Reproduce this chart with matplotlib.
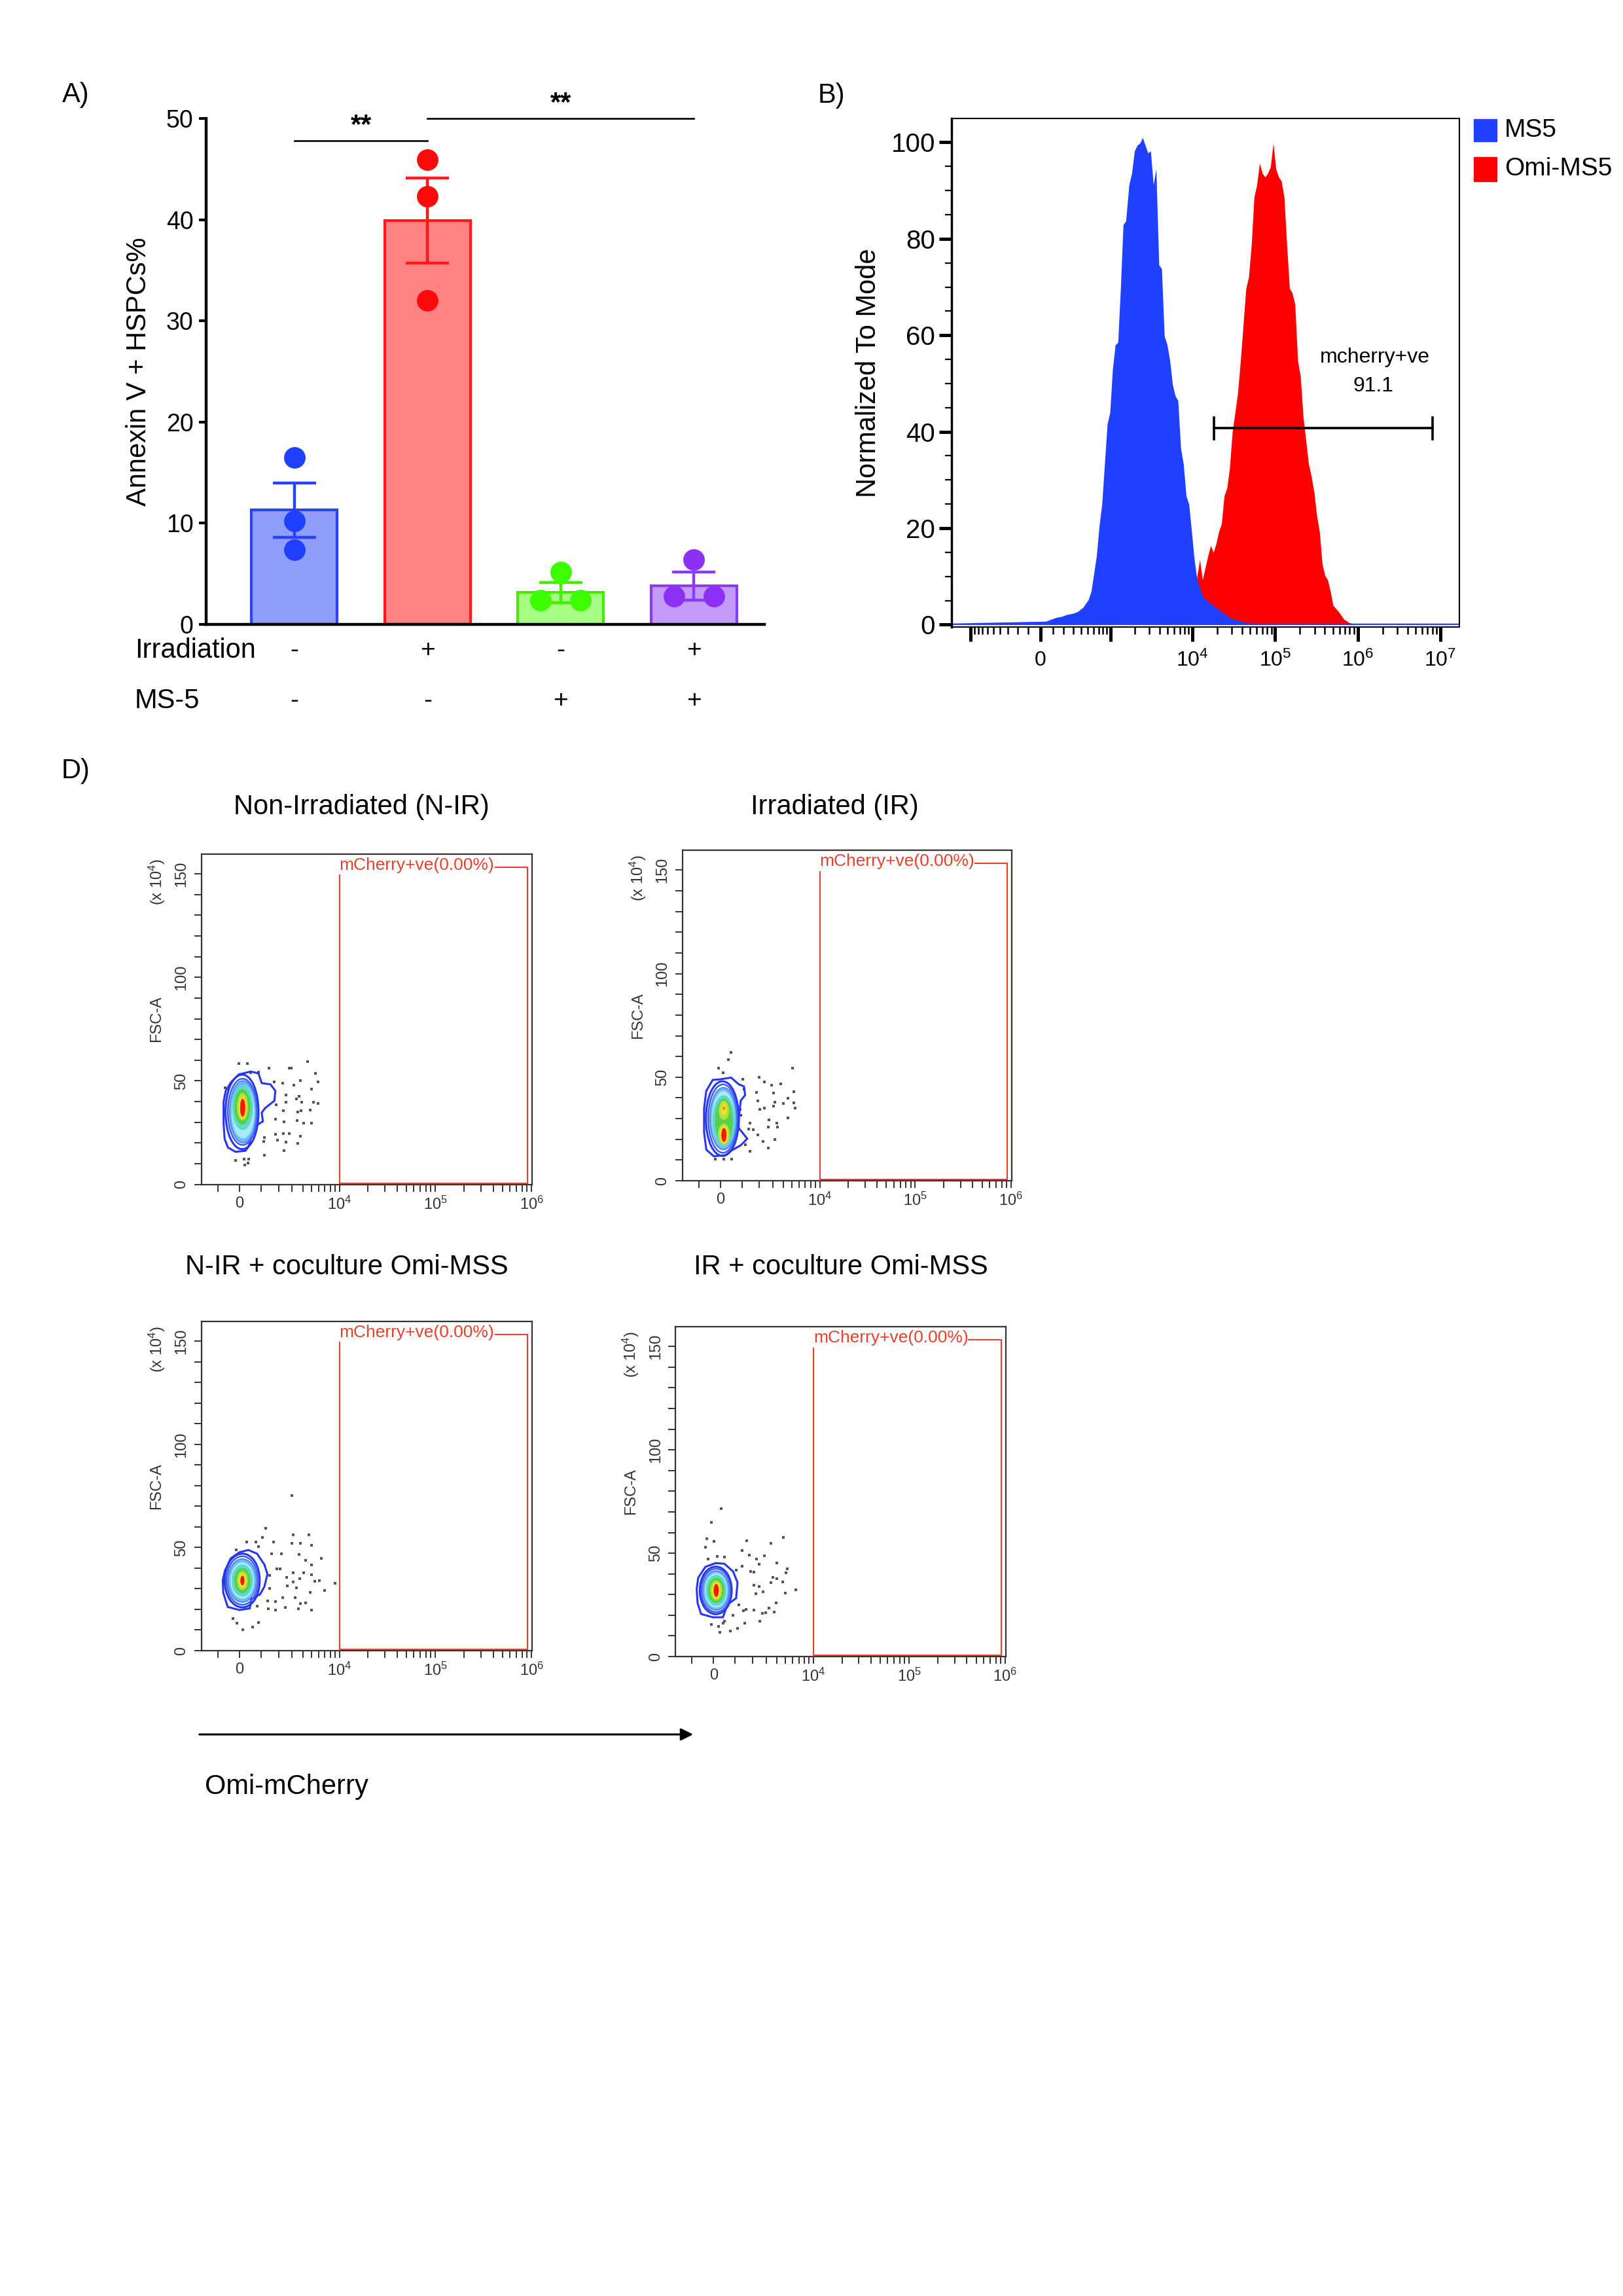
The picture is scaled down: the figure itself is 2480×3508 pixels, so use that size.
import numpy as np
import matplotlib
matplotlib.use("Agg")
import matplotlib.pyplot as plt
from matplotlib.patches import Ellipse, Rectangle, FancyArrowPatch
from matplotlib.ticker import FixedLocator, MultipleLocator, NullFormatter

plt.rcParams['font.family'] = ['Liberation Sans', 'DejaVu Sans']
plt.rcParams['mathtext.fontset'] = 'custom'
plt.rcParams['mathtext.rm'] = 'Liberation Sans'
plt.rcParams['mathtext.it'] = 'Liberation Sans:italic'
plt.rcParams['mathtext.bf'] = 'Liberation Sans:bold'
plt.rcParams['mathtext.default'] = 'regular'

# ---------------- Panel A data ----------------
A_groups = ["IR-/MS5-", "IR+/MS5-", "IR-/MS5+", "IR+/MS5+"]
A_means = [11.3, 39.9, 3.15, 3.8]
A_sem = [2.7, 4.2, 1.0, 1.4]
A_points = [[16.5, 10.25, 7.35], [45.9, 42.3, 32.0], [5.15, 2.4, 2.4], [6.4, 2.8, 2.8]]
A_irradiation = ["-", "+", "-", "+"]
A_ms5 = ["-", "-", "+", "+"]
A_sig_pairs = [(0, 1, 47.8), (1, 3, 50.0)]

# ---------------- Panel B data (histograms) ----------------
B_blue_x = [-1720, 43, 86, 132, 180, 233, 291, 356, 429, 512, 558, 607, 659, 715, 775, 839,
            908, 981, 1060, 1144, 1235, 1331, 1435, 1546, 1694, 1830, 1974, 2131, 2299, 2479,
            2672, 2881, 3105, 3354, 3618, 3917, 4228, 4561, 4922, 5312, 5732, 6182, 6670, 7196,
            7764, 8378, 9038, 9750, 10520, 11350, 13210, 15380, 17900, 20780, 24190, 28140,
            38130, 51660, 1.7e7]
B_blue_y = [0.3, 0.7, 1.1, 1.5, 1.7, 2.1, 2.3, 2.7, 3.6, 5.2, 6.9, 10.6, 14.3, 20.5, 25.0, 33.3,
            41.6, 44.0, 53.0, 58.0, 58.5, 69.7, 82.9, 83.7, 91.2, 93.6, 98.2, 99.4, 99.8, 101.0,
            99.4, 97.8, 98.2, 91.2, 94.5, 74.6, 73.8, 59.8, 58.1, 54.8, 49.8, 47.4, 46.5, 36.6,
            33.3, 26.7, 25.0, 19.3, 13.5, 9.3, 6.0, 4.8, 4.0, 3.1, 2.3, 1.5,
            0.7, 0.3, 0.3]
B_red_x = [9750, 11350, 12240, 13210, 14250, 15380, 16590, 17900, 19310, 20780, 22430, 24190,
           26100, 28140, 30360, 32760, 35340, 38130, 41130, 44380, 47880, 51660, 55720, 60120,
           64850, 69970, 75490, 81420, 87840, 94780, 102260, 110300, 119000, 128380, 138490,
           149410, 161200, 173910, 187600, 202410, 218370, 235590, 254160, 274200, 295820,
           319140, 344320, 371450, 400740, 432350, 466420, 503220, 585730, 681740, 793520, 923440]
B_red_y = [0.5, 10.0, 13.5, 9.3, 11.8, 14.3, 16.4, 15.0, 16.8, 19.3, 20.9, 26.7,
           28.3, 32.5, 40.0, 44.0, 48.2, 54.8, 62.2, 69.7, 72.1, 78.8, 88.7, 91.2,
           95.7, 93.6, 92.8, 93.6, 94.9, 99.8, 94.5, 92.8, 92.0, 88.7, 78.8,
           69.7, 68.8, 66.4, 54.8, 51.5, 43.2, 38.3, 33.3, 30.8, 27.5,
           22.6, 19.3, 12.6, 10.2, 9.3, 6.9, 4.0, 2.7, 1.1, 0.4, 0.1]
B_series = ["MS5", "Omi-MS5"]
B_gate_x = [18150, 8.0e6]
B_gate_y = 40.7
B_gate_label = "mcherry+ve"
B_gate_value = "91.1"

# ---------------- Panel D data (flow plots) ----------------
D_titles = ["Non-Irradiated (N-IR)", "Irradiated (IR)",
            "N-IR + coculture Omi-MSS", "IR + coculture Omi-MSS"]
D_gate_x = [1.0e4, 9.1e5]
D_gate_top = 153.3
D_gate_label = "mCherry+ve(0.00%)"

D1_outer_x = [507, 869, 1031, 1500, 1785, 1733, 1201, 1031, 1089, 659, 489, 409, 262, -174, -519,
              -672, -721, -721, -619, -370, -29]
D1_outer_y = [54.5, 53.6, 48.9, 48.3, 45.2, 40.4, 36.8, 34.6, 30.4, 27.8, 21.4, 18.3, 16.2, 15.7,
              17.8, 22.0, 29.4, 39.9, 45.2, 49.4, 53.1]
D1_levels = [(1, 120, 35, 1500, 36), (2, 140, 35, 1320, 32), (3, 160, 35, 1200, 30),
             (4, 160, 35, 1060, 26), (5, 140, 37, 880, 21), (6, 130, 37.5, 700, 17),
             (7, 135, 37.5, 470, 13), (8, 140, 37, 320, 10.5), (9, 140, 37, 210, 8.5)]
D1_dots_x = [-30, 350, 1400, 2750, 2940, 4540, 5500, 5900, 2280, 3160, 3770, 1700, 2530, 3630, 3360,
             3910, 5230, 5900, 2490, 1840, 5050, 2320, 3490, 3830, 4880, 1790, 2360, 3440, 4060,
             5050, 1170, 1120, 1790, 2320, 2750, 1930, 2490, 3770, 3490, 2360, 1170, -170, 195,
             420, 235, 393, -636, 875, 500]
D1_dots_y = [58.5, 58.5, 56.0, 56.0, 56.0, 59.2, 53.5, 49.4, 48.7, 48.0, 50.1, 49.4, 43.3, 42.6, 41.2,
             39.7, 39.7, 39.0, 39.7, 38.3, 46.1, 35.5, 34.8, 35.5, 35.8, 31.5, 30.1, 30.9, 29.5,
             29.5, 22.7, 20.6, 24.1, 24.5, 24.5, 21.3, 20.3, 23.1, 19.9, 16.3, 14.2, 11.6, 12.1,
             12.1, 9.2, 10.2, 46.8, 54.2, 53.9]

D2_outer_x = [-46, 485, 843, 1113, 1170, 948, 843, 843, 1284, 948, 485, 242, -288, -633, -737, -737,
              -633, -335]
D2_outer_y = [48.9, 49.8, 46.6, 45.5, 41.3, 38.7, 29.7, 25.5, 20.3, 17.1, 14.5, 12.4, 11.8, 15.0,
              23.4, 35.0, 43.4, 48.7]
D2_levels = [(1, 100, 30, 1500, 36), (2, 120, 30, 1320, 33), (3, 140, 30, 1200, 30),
             (4, 140, 30, 1060, 27), (5, 150, 29, 940, 24), (6, 160, 29, 760, 21),
             (7, 164, 34, 440, 9), (7, 164, 22.5, 500, 10), (8, 164, 34.5, 230, 5),
             (8, 164, 22.3, 340, 8.5), (9, 164, 22.1, 210, 6.5), (10, 164, 35, 90, 1.5)]
D2_dots_x = [495, 363, -64, 129, 1055, 2006, 2357, 2928, 3721, 5051, 1129, 1841, 3051, 5222, 1917,
             3178, 4029, 4508, 5222, 910, 2025, 2357, 3051, 5400, 939, 1445, 1364, 1613, 2688,
             3359, 4508, 2627, 3441, 1917, 3178, 2263, 2627, 1445, 1176, -219, 168, 522]
D2_dots_y = [61.8, 58.6, 54.3, 52.2, 49.1, 50.0, 47.6, 46.2, 46.8, 54.3, 44.4, 42.7, 42.3, 43.0, 38.7,
             38.0, 37.3, 39.7, 37.7, 34.5, 34.5, 35.2, 35.9, 35.2, 31.6, 27.8, 25.0, 24.8, 29.5,
             27.8, 30.2, 25.9, 25.9, 22.1, 19.9, 18.9, 15.7, 14.3, 17.4, 10.4, 10.4, 10.4]

D3_outer_x = [-663, -393, 0, 393, 803, 1170, 1330, 1170, 947, 527, 460, 0, -527, -735, -760]
D3_outer_y = [38.6, 44.7, 47.7, 48.8, 47.0, 41.7, 37.1, 31.1, 27.3, 25.0, 20.5, 19.7, 21.2, 28.0, 34.1]
D3_levels = [(1, 130, 34, 1600, 26), (2, 130, 34, 1420, 23.5), (3, 130, 34, 1280, 21),
             (4, 130, 34, 1100, 18), (5, 130, 34, 900, 15), (6, 130, 34, 700, 12),
             (7, 130, 34, 460, 9), (8, 130, 34, 300, 6.5), (9, 130, 34, 160, 4.5)]
D3_dots_x = [2986, 1220, 1066, 327, 733, 1698, 875, 3110, 4700, 2986, 3770, 5050, -156, 1576, 2180,
             3630, 6370, 4280, 5050, 1880, 2090, 1460, 2575, 4063, 3110, 5050, 5420, 6100, 9000,
             3060, 3690, 2600, 3360, 7000, 1460, 4880, 3230, 2280, 4310, 3770, 803, 1330, 1790,
             1380, 1810, 2470, 3550, 5050, -287, -104, 875, 594, 157]
D3_dots_y = [75.3, 59.4, 54.8, 52.7, 52.7, 52.7, 50.5, 56.1, 56.1, 52.0, 52.0, 51.2, 48.9, 47.0, 47.0,
             46.5, 44.7, 43.9, 41.7, 39.7, 39.7, 36.4, 35.6, 37.9, 37.9, 36.8, 33.6, 34.1, 32.6,
             33.3, 34.8, 31.5, 30.6, 29.2, 30.2, 28.3, 25.8, 25.6, 23.2, 23.0, 21.7, 24.2, 23.8,
             20.2, 19.7, 20.8, 20.2, 19.7, 15.6, 13.3, 13.6, 11.4, 10.2]

D4_outer_x = [-701, -364, 90, 483, 898, 1119, 1044, 618, 417, -39, -564, -729, -770]
D4_outer_y = [38.1, 43.4, 45.2, 44.9, 41.1, 35.8, 28.2, 25.1, 19.0, 19.0, 20.6, 25.9, 32.7]
D4_levels = [(1, 100, 32, 1450, 23), (2, 110, 32, 1320, 21), (3, 110, 32, 1180, 19),
             (4, 110, 32, 1040, 17), (5, 115, 32, 870, 14.5), (6, 115, 32, 700, 12),
             (7, 116, 32, 500, 9.5), (8, 116, 32, 340, 7.5), (9, 116, 32, 210, 6)]
D4_dots_x = [351, -103, -298, 26, -364, -233, 155, 483, 1634, 1353, 1774, 2247, 2846, 3435, 4777,
             2456, 4014, 1044, 1353, 1870, 2055, 5210, 5040, 3578, 4014, 4683, 3435, 2055, 2456,
             2718, 2192, 4975, 6518, 1195, 1434, 1600, 2055, 2676, 2968, 3212, 3724, 3947, 2504,
             1515, 898, 483, 417, 221, -103, 756, 1119, 286]
D4_dots_y = [71.6, 65.0, 57.1, 55.6, 52.8, 47.2, 48.4, 48.0, 56.0, 51.3, 49.2, 47.2, 48.7, 54.8, 57.6,
             44.5, 45.2, 41.9, 43.7, 41.1, 40.8, 42.3, 40.4, 38.4, 37.6, 36.1, 35.8, 34.6, 34.0,
             31.2, 30.5, 30.8, 32.3, 25.1, 22.1, 22.8, 22.4, 20.9, 21.3, 23.3, 21.6, 25.9, 17.1,
             16.3, 19.8, 17.1, 16.0, 14.5, 15.5, 12.2, 13.7, 11.7]

# ---------------- styles ----------------
W, H = 2480, 3508
A_fill = ["#8f9ef9", "#ff8282", "#a6ff84", "#c39cfb"]
A_edge = ["#2844f6", "#ff1a1a", "#44ee00", "#8a3cf4"]
A_dot = ["#2040ff", "#ff0a0a", "#3cff00", "#8c30f5"]
A_jitter = [[0, 0, 0], [0, 0, 0], [0, -0.15, 0.15], [0, -0.15, 0.15]]
B_colors = ["#2040ff", "#ff0000"]
GATE_C = "#e8402a"
LEVEL_STYLE = {
    1: ("none", "#2636ee", 2.2),
    2: ("none", "#3c5af2", 1.8),
    3: ("#6cb6f6", "#4a7cf4", 1.2),
    4: ("#abe7f4", "#74c8f2", 1.0),
    5: ("#5edbd0", "#50cfc6", 0.8),
    6: ("#56d24a", "#56d24a", 0.6),
    7: ("#b6e23a", "#b6e23a", 0.5),
    8: ("#f2e42a", "#f2e42a", 0.5),
    9: ("#f21a0a", "#f21a0a", 0.5),
    10: ("#ff8000", "#ff8000", 0.5),
}

fig = plt.figure(figsize=(W / 100, H / 100), dpi=100)


def add_ax(l, t, r, b):
    return fig.add_axes([l / W, 1 - b / H, (r - l) / W, (b - t) / H])


def ftext(x, y, s, **kw):
    fig.text(x / W, 1 - y / H, s, **kw)


# ================= Panel A =================
axA = add_ax(315, 181, 1168, 954)
pos = np.arange(len(A_groups))
axA.bar(pos, A_means, width=0.645, color=A_fill, edgecolor=A_edge, linewidth=3.0, zorder=1)
for i in range(len(pos)):
    axA.errorbar(pos[i], A_means[i], yerr=A_sem[i], fmt='none', ecolor=A_edge[i],
                 elinewidth=3.2, capsize=24, capthick=3.2, zorder=3)
    axA.scatter(pos[i] + np.array(A_jitter[i]), A_points[i], s=560, color=A_dot[i],
                zorder=4, linewidths=0, clip_on=False)
axA.set_xlim(-0.663, 3.53)
axA.set_ylim(0, 50)
axA.set_yticks([0, 10, 20, 30, 40, 50])
axA.set_xticks([])
for sp in ["top", "right"]:
    axA.spines[sp].set_visible(False)
axA.spines["left"].set_linewidth(3.2)
axA.spines["bottom"].set_linewidth(3.2)
axA.tick_params(axis='y', length=8, width=3.0, labelsize=27, pad=6)
axA.text(-0.121, 0.5, "Annexin V + HSPCs%", rotation=90, ha='center', va='center',
         fontsize=30, transform=axA.transAxes)
for (a, b, yv) in A_sig_pairs:
    axA.plot([a, b], [yv, yv], color='black', lw=1.9, clip_on=False)
    axA.text((a + b) / 2, yv + 0.2, "**", ha='center', va='bottom', fontsize=30,
             fontweight='bold', clip_on=False)
for i in range(len(pos)):
    axA.text(pos[i], -0.052, A_irradiation[i], ha='center', va='center', fontsize=28,
             transform=axA.get_xaxis_transform())
    axA.text(pos[i], -0.152, A_ms5[i], ha='center', va='center', fontsize=28,
             transform=axA.get_xaxis_transform())
ftext(206, 994, "Irradiation", ha='left', va='center', fontsize=30)
ftext(206, 1071, "MS-5", ha='left', va='center', fontsize=30)
ftext(116, 145, "A)", ha='center', va='center', fontsize=30)

# ================= Panel B =================
axB = add_ax(1454, 181, 2230, 957.5)
axB.set_xscale('asinh', linear_width=290)
axB.fill_between(B_red_x, B_red_y, 0, color=B_colors[1], lw=0, zorder=1)
axB.fill_between(B_blue_x, B_blue_y, 0, color=B_colors[0], lw=0, zorder=2)
axB.set_xlim(-1720, 1.7e7)
axB.set_ylim(-0.42, 104.95)
axB.set_yticks([0, 20, 40, 60, 80, 100])
axB.yaxis.set_minor_locator(MultipleLocator(5))
maj = [-1000, 0, 1000, 1e4, 1e5, 1e6, 1e7]
axB.xaxis.set_major_locator(FixedLocator(maj))
axB.set_xticklabels(["", "0", "", "$10^4$", "$10^5$", "$10^6$", "$10^7$"])
minB = [-k * 100 for k in range(1, 10)] + [k * 100 for k in range(1, 10)]
for dec in [1e3, 1e4, 1e5, 1e6]:
    minB += [k * dec for k in range(2, 10)]
axB.xaxis.set_minor_locator(FixedLocator(minB))
axB.xaxis.set_minor_formatter(NullFormatter())
axB.tick_params(axis='y', which='major', length=14, width=3.6, labelsize=29, pad=4)
axB.tick_params(axis='y', which='minor', length=7, width=1.6)
axB.tick_params(axis='x', which='major', length=16, width=3.6, labelsize=23, pad=10)
axB.tick_params(axis='x', which='minor', length=8, width=1.8)
for sp in axB.spines.values():
    sp.set_linewidth(1.5)
axB.spines["left"].set_linewidth(2.5)
axB.plot(B_gate_x, [B_gate_y, B_gate_y], color='black', lw=2.6, zorder=5)
for gx in B_gate_x:
    axB.plot([gx, gx], [B_gate_y - 2.2, B_gate_y + 2.2], color='black', lw=2.6, zorder=5)
axB.text(1.6e6, 55.4, B_gate_label, ha='center', va='center', fontsize=23, zorder=6)
axB.text(1.55e6, 49.4, B_gate_value, ha='center', va='center', fontsize=23, zorder=6)
axB.text(-0.164, 0.5, "Normalized To Mode", rotation=90, ha='center', va='center',
         fontsize=30, transform=axB.transAxes)
for k, (yy0, yy1) in enumerate([(182, 216), (240, 277)]):
    fig.add_artist(Rectangle((2252 / W, 1 - yy1 / H), 35 / W, (yy1 - yy0) / H,
                             transform=fig.transFigure, color=B_colors[k]))
    ftext(2299, (yy0 + yy1) / 2, B_series[k], ha='left', va='center', fontsize=28)
ftext(1270, 146, "B)", ha='center', va='center', fontsize=30)

# ================= Panel D =================
D_boxes = [(307.7, 1304.8, 813.3, 1809.5), (1042.6, 1299, 1546, 1804),
           (307.7, 2019, 813.3, 2522), (1032.3, 2027, 1537, 2531)]
D_title_pos = [(552, 1233), (1275, 1233), (530, 1936), (1285, 1936)]
D_outer = [(D1_outer_x, D1_outer_y), (D2_outer_x, D2_outer_y),
           (D3_outer_x, D3_outer_y), (D4_outer_x, D4_outer_y)]
D_levels = [D1_levels, D2_levels, D3_levels, D4_levels]
D_dots = [(D1_dots_x, D1_dots_y), (D2_dots_x, D2_dots_y),
          (D3_dots_x, D3_dots_y), (D4_dots_x, D4_dots_y)]

minD = [-1000] + [k * 1000 for k in range(1, 10)] + [k * 1e4 for k in range(2, 10)] + \
       [k * 1e5 for k in range(2, 10)]
for i in range(4):
    ax = add_ax(*D_boxes[i])
    ax.set_xscale('asinh', linear_width=1848)
    ax.set_xlim(-1930, 1.02e6)
    ax.set_ylim(0, 159.6)
    ax.scatter(D_dots[i][0], D_dots[i][1], s=5, color='#555555', marker='s', lw=0, zorder=2)
    ox, oy = D_outer[i]
    ax.fill(ox, oy, facecolor='none', edgecolor=LEVEL_STYLE[1][1], lw=2.2, zorder=3)
    for (lv, cx, cy, w, h) in D_levels[i]:
        fc, ec, lw = LEVEL_STYLE[lv]
        ax.add_patch(Ellipse((cx, cy), w, h, facecolor=fc, edgecolor=ec, lw=lw,
                             zorder=3 + lv * 0.1))
    gx0, gx1 = D_gate_x
    ax.plot([gx0, gx0], [0.4, 149.3], color=GATE_C, lw=1.5, zorder=6)
    ax.plot([gx0, gx1], [0.5, 0.5], color=GATE_C, lw=1.5, zorder=6, clip_on=False)
    ax.plot([gx1, gx1], [0.5, D_gate_top], color=GATE_C, lw=1.5, zorder=6)
    ax.plot([4.2e5, gx1], [D_gate_top, D_gate_top], color=GATE_C, lw=1.5, zorder=6)
    ax.text(gx0, D_gate_top + 0.8, D_gate_label, color=GATE_C, fontsize=19, ha='left',
            va='center', zorder=7)
    ax.xaxis.set_major_locator(FixedLocator([0, 1e4, 1e5, 1e6]))
    ax.set_xticklabels(["0", "$10^4$", "$10^5$", "$10^6$"])
    ax.xaxis.set_minor_locator(FixedLocator(minD))
    ax.xaxis.set_minor_formatter(NullFormatter())
    ax.set_yticks([0, 50, 100, 150])
    ax.yaxis.set_minor_locator(MultipleLocator(10))
    ax.set_yticklabels(["0", "50", "100", "150"], rotation=90, va='center')
    ax.tick_params(which='both', length=8, width=1.4, color='#333333', labelcolor='#333333',
                   labelsize=17)
    ax.tick_params(axis='x', which='both', pad=5)
    ax.tick_params(axis='y', which='both', pad=6)
    for sp in ax.spines.values():
        sp.set_linewidth(1.6)
        sp.set_color('#333333')
    ax.text(-0.135, 0.5, "FSC-A", rotation=90, ha='center', va='center', fontsize=17,
            color='#333333', transform=ax.transAxes)
    ax.text(-0.135, 0.916, "(x 10$^4$)", rotation=90, ha='center', va='center', fontsize=17,
            color='#333333', transform=ax.transAxes)
    tx, ty = D_title_pos[i]
    ftext(tx, ty, D_titles[i], ha='center', va='center', fontsize=30)

ftext(116, 1178, "D)", ha='center', va='center', fontsize=30)
fig.add_artist(FancyArrowPatch(posA=(302 / W, 1 - 2650 / H), posB=(1062 / W, 1 - 2650 / H),
                               transform=fig.transFigure, arrowstyle='-|>', mutation_scale=28,
                               lw=2.2, color='black'))
ftext(313, 2730, "Omi-mCherry", ha='left', va='center', fontsize=30)

fig.savefig("out.png", dpi=100, facecolor='white')
